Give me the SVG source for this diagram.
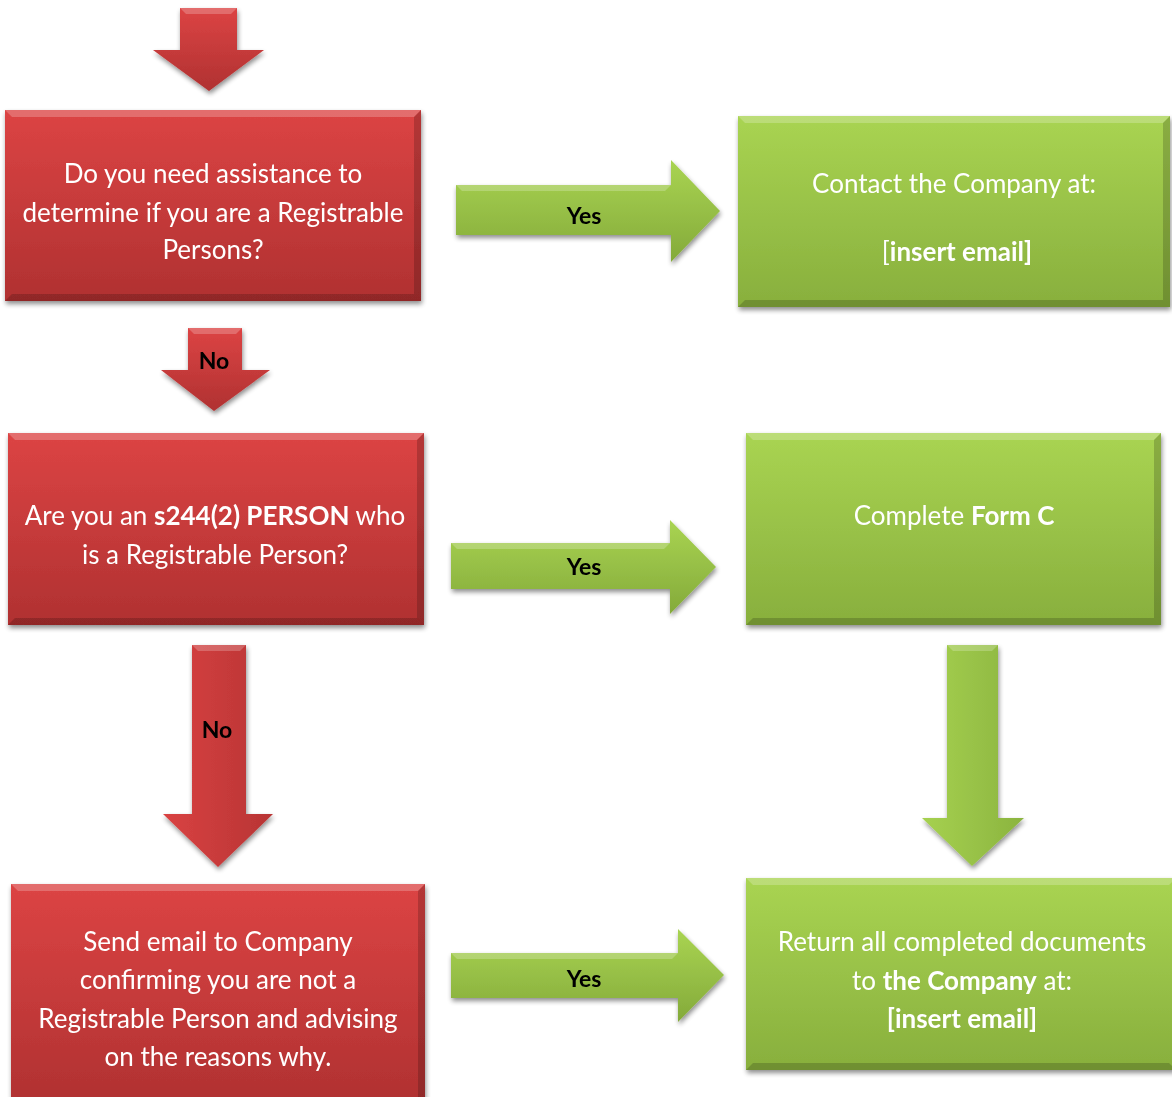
<svg xmlns="http://www.w3.org/2000/svg" width="1172" height="1097" viewBox="0 0 1172 1097">
<defs>
<linearGradient id="gRed" x1="0" y1="0" x2="0" y2="1"><stop offset="0" stop-color="#dc4444"/><stop offset="1" stop-color="#b03131"/></linearGradient>
<linearGradient id="gGreen" x1="0" y1="0" x2="0" y2="1"><stop offset="0" stop-color="#a9d452"/><stop offset="1" stop-color="#88af3d"/></linearGradient>
<linearGradient id="gRedH" x1="0" y1="0" x2="1" y2="0"><stop offset="0" stop-color="#d94242"/><stop offset="1" stop-color="#b83434"/></linearGradient>
<linearGradient id="gGreenH" x1="0" y1="0" x2="1" y2="0"><stop offset="0" stop-color="#a6d150"/><stop offset="1" stop-color="#8bb43f"/></linearGradient>
<linearGradient id="gGreenArr" x1="0" y1="0" x2="0" y2="1"><stop offset="0" stop-color="#a9d452"/><stop offset="1" stop-color="#84aa3a"/></linearGradient>
<filter id="sh" x="-10%" y="-10%" width="125%" height="125%"><feGaussianBlur in="SourceAlpha" stdDeviation="2.5"/><feOffset dx="1" dy="3"/><feComponentTransfer><feFuncA type="linear" slope="0.45"/></feComponentTransfer><feMerge><feMergeNode/><feMergeNode in="SourceGraphic"/></feMerge></filter>
</defs>
<style>
.t{font-family:Lato,"Open Sans","Liberation Sans",sans-serif;font-size:26px;fill:#ffffff;text-anchor:middle}
.b{font-weight:bold}
.l{font-family:Lato,"Open Sans","Liberation Sans",sans-serif;font-size:23px;font-weight:bold;fill:#000000;text-anchor:middle}
.hl{fill:#ffffff;opacity:0.22}
.dk{fill:#000000;opacity:0.18}
</style>
<rect width="1172" height="1097" fill="#ffffff"/>
<g id="connectors">
<g id="arrow-start" filter="url(#sh)">
<polygon points="180,8 237,8 237,50 264,50 209,91 153,50 180,50" fill="url(#gRed)"/>
<polygon points="180,8 237,8 231,14 186,14" class="hl"/>
</g>
<g id="arrow-yes1" filter="url(#sh)">
<polygon points="456,185 671,185 671,160 720,211 671,262 671,235 456,235" fill="url(#gGreenArr)"/>
<polygon points="456,185 671,185 665,191 462,191" class="hl"/>
<text class="l" x="584" y="224">Yes</text>
</g>
<g id="arrow-no1" filter="url(#sh)">
<polygon points="188,328 242,328 242,370 270,370 214,411 161,370 188,370" fill="url(#gRed)"/>
<polygon points="188,328 242,328 236,334 194,334" class="hl"/>
<text class="l" x="214" y="369">No</text>
</g>
<g id="arrow-yes2" filter="url(#sh)">
<polygon points="451,543 670,543 670,520 716,567 670,614 670,589 451,589" fill="url(#gGreenArr)"/>
<polygon points="451,543 670,543 664,549 457,549" class="hl"/>
<text class="l" x="584" y="575">Yes</text>
</g>
<g id="arrow-no2" filter="url(#sh)">
<polygon points="192,645 246,645 246,814 273,814 218,867 163,814 192,814" fill="url(#gRedH)"/>
<polygon points="192,645 246,645 240,651 198,651" class="hl"/>
<text class="l" x="217" y="738">No</text>
</g>
<g id="arrow-green-down" filter="url(#sh)">
<polygon points="947,645 998,645 998,818 1024,818 972,866 922,818 947,818" fill="url(#gGreenH)"/>
<polygon points="947,645 998,645 992,651 953,651" class="hl"/>
</g>
<g id="arrow-yes3" filter="url(#sh)">
<polygon points="451,953 678,953 678,929 724,975 678,1022 678,998 451,998" fill="url(#gGreenArr)"/>
<polygon points="451,953 678,953 672,959 457,959" class="hl"/>
<text class="l" x="584" y="987">Yes</text>
</g>
</g>
<g id="node-q1" filter="url(#sh)">
<rect x="5" y="110" width="416" height="191" fill="url(#gRed)"/>
<polygon points="5,110 421,110 414,117 12,117" class="hl"/>
<polygon points="5,301 421,301 414,294 12,294" class="dk"/>
<polygon points="421,110 421,301 414,294 414,117" class="dk"/>
<text class="t" x="213" y="183">Do you need assistance to</text>
<text class="t" x="213" y="222">determine if you are a Registrable</text>
<text class="t" x="213" y="259">Persons?</text>
</g>
<g id="node-contact" filter="url(#sh)">
<rect x="738" y="116" width="432" height="191" fill="url(#gGreen)"/>
<polygon points="738,116 1170,116 1163,123 745,123" class="hl"/>
<polygon points="738,307 1170,307 1163,300 745,300" class="dk"/>
<polygon points="1170,116 1170,307 1163,300 1163,123" class="dk"/>
<text class="t" x="954" y="193">Contact the Company at:</text>
<text class="t" x="957" y="261">[<tspan class="b">insert email]</tspan></text>
</g>
<g id="node-q2" filter="url(#sh)">
<rect x="8" y="433" width="416" height="192" fill="url(#gRed)"/>
<polygon points="8,433 424,433 417,440 15,440" class="hl"/>
<polygon points="8,625 424,625 417,618 15,618" class="dk"/>
<polygon points="424,433 424,625 417,618 417,440" class="dk"/>
<text class="t" x="215" y="525">Are you an <tspan class="b">s244(2) PERSON</tspan> who</text>
<text class="t" x="215" y="564">is a Registrable Person?</text>
</g>
<g id="node-formc" filter="url(#sh)">
<rect x="746" y="433" width="415" height="192" fill="url(#gGreen)"/>
<polygon points="746,433 1161,433 1154,440 753,440" class="hl"/>
<polygon points="746,625 1161,625 1154,618 753,618" class="dk"/>
<polygon points="1161,433 1161,625 1154,618 1154,440" class="dk"/>
<text class="t" x="954" y="525">Complete <tspan class="b">Form C</tspan></text>
</g>
<g id="node-send" filter="url(#sh)">
<rect x="11" y="884" width="414" height="220" fill="url(#gRed)"/>
<polygon points="11,884 425,884 418,891 18,891" class="hl"/>
<polygon points="425,884 425,1104 418,1097 418,891" class="dk"/>
<text class="t" x="218" y="951">Send email to Company</text>
<text class="t" x="218" y="989">confirming you are not a</text>
<text class="t" x="218" y="1028">Registrable Person and advising</text>
<text class="t" x="218" y="1066">on the reasons why.</text>
</g>
<g id="node-return" filter="url(#sh)">
<rect x="746" y="878" width="430" height="192" fill="url(#gGreen)"/>
<polygon points="746,878 1176,878 1169,885 753,885" class="hl"/>
<polygon points="746,1070 1176,1070 1169,1063 753,1063" class="dk"/>
<text class="t" x="962" y="951">Return all completed documents</text>
<text class="t" x="962" y="990">to <tspan class="b">the Company</tspan> at:</text>
<text class="t" x="962" y="1028"><tspan class="b">[insert email]</tspan></text>
</g>
</svg>
